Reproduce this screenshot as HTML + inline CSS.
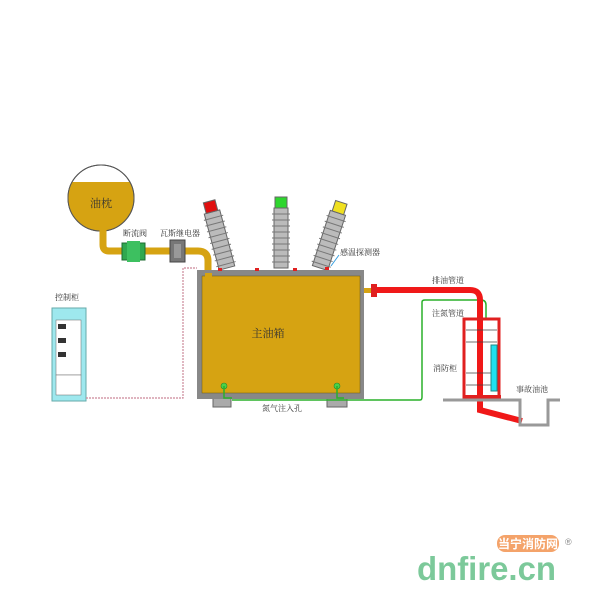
<!DOCTYPE html>
<html><head><meta charset="utf-8"><style>
body{margin:0;background:#fff}
svg{display:block;font-family:"Liberation Serif","Noto Serif CJK SC",serif}
</style></head><body>
<svg width="600" height="600" viewBox="0 0 600 600" xmlns="http://www.w3.org/2000/svg">
<defs><clipPath id="c"><circle cx="101" cy="198" r="33"/></clipPath></defs>
<circle cx="101" cy="198" r="33" fill="#fff" stroke="#555" stroke-width="1"/>
<rect x="66" y="182" width="70" height="52" fill="#d6a312" clip-path="url(#c)"/>
<circle cx="101" cy="198" r="33" fill="none" stroke="#555" stroke-width="1"/>
<text x="101" y="207" font-size="11" text-anchor="middle" fill="#333">油枕</text>
<path d="M103 230 V245 Q103 251 109 251 H198 Q208 251 208 261 V276" fill="none" stroke="#d6a312" stroke-width="7"/>
<rect x="122" y="243" width="23" height="17" fill="#2fa84f" stroke="#1c6b30"/>
<rect x="127" y="241" width="13" height="21" fill="#3dc060"/>
<rect x="170" y="240" width="15" height="22" fill="#777" stroke="#444"/>
<rect x="174" y="244" width="7" height="14" fill="#999"/>
<text x="135" y="236" font-size="8" text-anchor="middle" fill="#333">断流阀</text>
<text x="180" y="236" font-size="8" text-anchor="middle" fill="#333">瓦斯继电器</text>
<g stroke="#666" stroke-width="1">
<g transform="rotate(-15 227 268)"><rect x="219" y="210" width="16" height="58" fill="#bbb"/>
<path d="M217 216h20M217 222h20M217 228h20M217 234h20M217 240h20M217 246h20M217 252h20M217 258h20M217 264h20" stroke="#777"/>
<rect x="221" y="199" width="12" height="11" fill="#e01010"/></g>
<rect x="274" y="208" width="14" height="60" fill="#bbb"/>
<path d="M272 214h18M272 220h18M272 226h18M272 232h18M272 238h18M272 244h18M272 250h18M272 256h18M272 262h18" stroke="#777"/>
<rect x="275" y="197" width="12" height="11" fill="#2ed62e"/>
<g transform="rotate(18 320 268)"><rect x="312" y="210" width="16" height="58" fill="#bbb"/>
<path d="M310 216h20M310 222h20M310 228h20M310 234h20M310 240h20M310 246h20M310 252h20M310 258h20M310 264h20" stroke="#777"/>
<rect x="314" y="199" width="12" height="11" fill="#f0e020"/></g>
</g>
<rect x="213" y="396" width="18" height="11" fill="#aaa" stroke="#666"/>
<rect x="327" y="396" width="20" height="11" fill="#aaa" stroke="#666"/>
<rect x="197" y="270" width="167" height="129" fill="#888"/>
<rect x="202" y="276" width="158" height="117" fill="#d6a312" stroke="#6a5a1a" stroke-width="0.5"/>
<rect x="205" y="273" width="7" height="10" fill="#d6a312"/>
<g fill="#e02020"><rect x="218" y="268" width="4" height="3"/><rect x="255" y="268" width="4" height="3"/><rect x="293" y="268" width="4" height="3"/><rect x="325" y="267" width="4" height="3"/></g>
<text x="268" y="337" font-size="11" text-anchor="middle" fill="#333">主油箱</text>
<line x1="331" y1="266" x2="339" y2="255" stroke="#3aa0e0"/>
<text x="340" y="255" font-size="8" fill="#333">感温探测器</text>
<g fill="#4ad24a" stroke="#2a8a2a" stroke-width="0.6"><circle cx="224" cy="386" r="3"/><circle cx="337" cy="386" r="3"/></g>
<path d="M224 386 V398 H232 M337 386 V398 H344 M232 400 H420 Q422 400 422 397 V302 Q422 300 425 300 H481 Q486 300 486 305 V318" fill="none" stroke="#2ab02a" stroke-width="1.5"/>
<text x="282" y="411" font-size="8" text-anchor="middle" fill="#333">氮气注入孔</text>
<rect x="52" y="308" width="34" height="93" fill="#9ee8ee" stroke="#6aa" />
<rect x="56" y="320" width="25" height="55" fill="#fff" stroke="#666" stroke-width="0.5"/>
<g fill="#333"><rect x="58" y="324" width="8" height="5"/><rect x="58" y="338" width="8" height="5"/><rect x="58" y="352" width="8" height="5"/></g>
<rect x="56" y="375" width="25" height="20" fill="#fff" stroke="#666" stroke-width="0.5"/>
<text x="55" y="300" font-size="8" fill="#333">控制柜</text>
<path d="M86 398 H183 V268 H197" fill="none" stroke="#c89" stroke-width="1.2" stroke-dasharray="2,1"/>
<rect x="364" y="288" width="8" height="5" fill="#d6a312"/>
<rect x="371" y="284" width="6" height="13" fill="#e02020"/>
<path d="M377 290 H470 Q480 290 480 300 V410 L522 421" fill="none" stroke="#f01818" stroke-width="6"/>
<text x="432" y="283" font-size="8" fill="#333">排油管道</text>
<text x="432" y="316" font-size="8" fill="#333">注氮管道</text>
<rect x="464" y="319" width="35" height="78" fill="none" stroke="#e02020" stroke-width="3"/>
<g stroke="#444" stroke-width="0.8"><path d="M466 330h31M466 342h31M466 373h31M466 385h31"/></g>
<rect x="491" y="345" width="6" height="46" fill="#20e0f0" stroke="#288"/>
<rect x="463" y="395" width="38" height="5" fill="#e02020"/>
<text x="433" y="371" font-size="8" fill="#333">消防柜</text>
<path d="M443 400 H520 V425 H548 V400 H560" fill="none" stroke="#999" stroke-width="3"/>
<text x="516" y="392" font-size="8" fill="#333">事故油池</text>
<rect x="497" y="535" width="62" height="17" rx="8" fill="#f4a36a"/>
<text x="528" y="548" font-size="12" text-anchor="middle" fill="#fff" font-family="Liberation Sans,'Noto Sans CJK SC',sans-serif" font-weight="bold">当宁消防网</text>
<text x="565" y="545" font-size="9" fill="#888" font-family="Liberation Sans,sans-serif">®</text>
<text x="417" y="580" font-size="33" font-weight="bold" fill="#7cc99a" font-family="Liberation Sans,sans-serif" textLength="139" lengthAdjust="spacingAndGlyphs">dnfire.cn</text>
</svg>
</body></html>
